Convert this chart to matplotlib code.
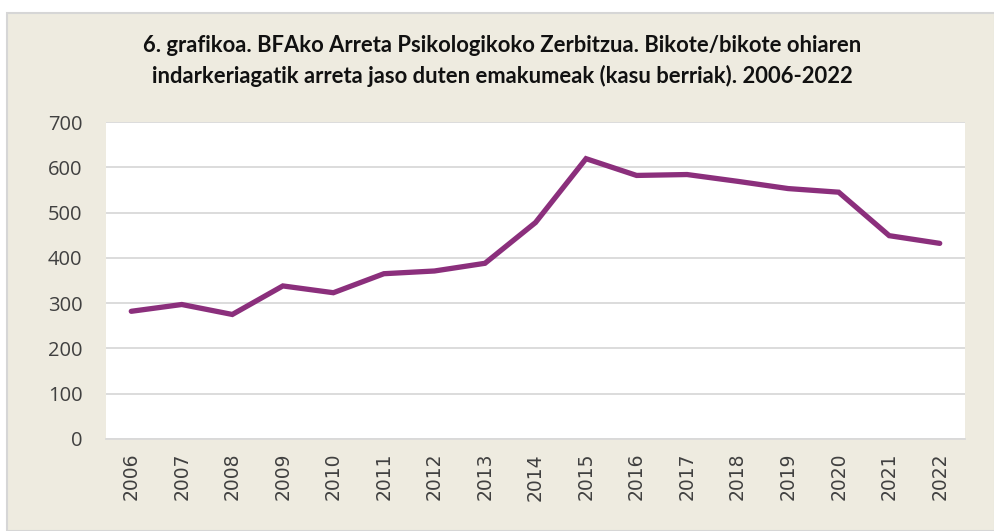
import matplotlib.pyplot as plt
from matplotlib.patches import Rectangle

years = [str(y) for y in range(2006, 2023)]
emakumeak = [282, 297, 275, 338, 323, 365, 371, 388, 478, 619, 582, 584, 569, 553, 545, 449, 432]

izenburua = ("6. grafikoa. BFAko Arreta Psikologikoko Zerbitzua. Bikote/bikote ohiaren\n"
             "indarkeriagatik arreta jaso duten emakumeak (kasu berriak). 2006-2022")

W, H = 995, 531
fig = plt.figure(figsize=(W / 100, H / 100), dpi=100)
fig.patch.set_facecolor("white")

# beige chart frame
fig.patches.append(Rectangle((7 / W, 0), 1 - 7 / W, 1 - 13 / H, transform=fig.transFigure,
                             facecolor="#EEEBE0", edgecolor="#D6D6D6", lw=1.5, zorder=-1))

ax = fig.add_axes([106 / W, 1 - 439 / H, (965 - 106) / W, (439 - 122) / H])
ax.set_facecolor("white")

x = range(len(years))
ax.plot(x, emakumeak, color="#8B2F7C", lw=3.8, solid_joinstyle="miter", solid_capstyle="round", zorder=3)

ax.set_xlim(-0.5, len(years) - 0.5)
ax.set_ylim(0, 700)
ax.set_yticks(range(0, 701, 100))
ax.set_xticks(list(x))
ax.set_xticklabels(years, rotation=90, fontsize=13.5, color="#404040", family="DejaVu Sans")
ax.set_yticklabels([str(v) for v in range(0, 701, 100)], fontsize=14.5, color="#404040", family="Open Sans")
ax.yaxis.set_tick_params(length=0, pad=17)
ax.xaxis.set_tick_params(length=0, pad=10)

ax.grid(axis="y", color="#D9D9D9", lw=1.3)
ax.set_axisbelow(True)
for s in ["top", "right", "left"]:
    ax.spines[s].set_visible(False)
ax.spines["bottom"].set_color("#D9D9D9")
ax.spines["bottom"].set_linewidth(1.3)

fig.text(0.505, 1 - 61 / H, izenburua, ha="center", va="center", fontsize=15.8,
         fontweight="bold", family="Lato", color="#111111", linespacing=1.45)

fig.savefig("out.png", dpi=100)
